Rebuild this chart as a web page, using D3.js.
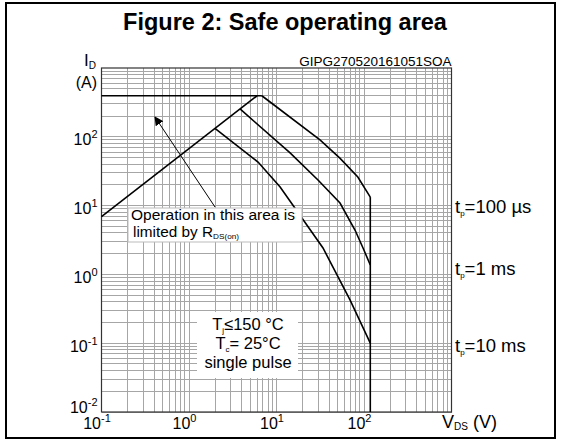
<!DOCTYPE html>
<html>
<head>
<meta charset="utf-8">
<script src="https://cdn.jsdelivr.net/npm/d3@7"></script>
<style>
  body { margin: 0; background: #fff; }
  svg { font-family: "Liberation Sans", Arial, sans-serif; }
</style>
</head>
<body>
<svg id="chart" width="561" height="441"></svg>
<script>
// Axis ticks
const xTicks = [0.1, 1, 10, 100];
const yTicks = [0.01, 0.1, 1, 10, 100];

// Boundary lines (V, A)
const rdsLine = [[0.1, 6.9], [6.0, 395]];
const currentLimit = [[0.1, 395], [6.8, 395]];
const vdssLimit = [[118, 13.3], [118, 0.01]];

// Pulse curves (V, A)
const pulse100us = [[6.8, 395], [31.4, 89.9], [53, 49], [85, 26], [118, 13.3]];
const pulse1ms = [[3.83, 254], [14.3, 58.5], [29.8, 23.6], [53.2, 10.9], [78.9, 4.42], [97.5, 2.42], [118, 1.37]];
const pulse10ms = [[1.98, 133], [6.15, 43], [11.0, 18.6], [34.0, 2.42], [69.2, 0.425], [118, 0.1]];

// Right-hand labels and where they sit (A)
const pulseNames = ["100 µs", "1 ms", "10 ms"];
const pulseLabelY = [9.5, 1.2, 0.091];

const svg = d3.select("#chart");

// outer frame + title
svg.append("rect")
  .attr("x", 6).attr("y", 3).attr("width", 549).attr("height", 435)
  .attr("fill", "none").attr("stroke", "#000").attr("stroke-width", 2);

svg.append("text")
  .attr("x", 285).attr("y", 30)
  .attr("text-anchor", "middle")
  .attr("font-weight", "bold")
  .attr("font-size", 23.5)
  .text("Figure 2: Safe operating area");

// scales
const x = d3.scaleLog().domain([0.1, 1000]).range([101.5, 451.5]);
const y = d3.scaleLog().domain([0.01, 1000]).range([412, 68]);

// log grid: 1..9 in every decade
const gridX = [], gridY = [];
for (let e = -1; e < 3; e++) for (let m = 1; m < 10; m++) gridX.push(m * Math.pow(10, e));
for (let e = -2; e < 3; e++) for (let m = 1; m < 10; m++) gridY.push(m * Math.pow(10, e));

const grid = svg.append("g").attr("stroke", "#a6a6a6").attr("stroke-width", 1)
  .attr("shape-rendering", "crispEdges");
grid.selectAll(".gx").data(gridX).enter().append("line")
  .attr("x1", d => x(d)).attr("x2", d => x(d))
  .attr("y1", y(0.01)).attr("y2", y(1000));
grid.selectAll(".gy").data(gridY).enter().append("line")
  .attr("x1", x(0.1)).attr("x2", x(1000))
  .attr("y1", d => y(d)).attr("y2", d => y(d));

// plot frame
svg.append("rect")
  .attr("x", x(0.1)).attr("y", y(1000))
  .attr("width", x(1000) - x(0.1)).attr("height", y(0.01) - y(1000))
  .attr("fill", "none").attr("stroke", "#333").attr("stroke-width", 1.2);

// power-of-ten labels
function powLabel(sel) {
  sel.each(function(d) {
    const t = d3.select(this).text("");
    const exp = Math.round(Math.log10(d));
    t.append("tspan").text("10");
    t.append("tspan").attr("dy", -7).attr("font-size", 11).text(exp);
  });
}

const xAxis = svg.append("g")
  .attr("transform", "translate(0," + y(0.01) + ")")
  .call(d3.axisBottom(x).tickValues(xTicks).tickSize(0).tickPadding(6));
xAxis.select(".domain").remove();
xAxis.selectAll("text")
  .attr("font-size", 16).attr("font-family", "Liberation Sans, Arial, sans-serif")
  .attr("fill", "#000").attr("dx", -5)
  .call(powLabel);

const yAxis = svg.append("g")
  .attr("transform", "translate(" + x(0.1) + ",0)")
  .call(d3.axisLeft(y).tickValues(yTicks).tickSize(0).tickPadding(4));
yAxis.select(".domain").remove();
yAxis.selectAll("text")
  .attr("font-size", 16).attr("font-family", "Liberation Sans, Arial, sans-serif")
  .attr("fill", "#000")
  .attr("dy", d => d === 0.01 ? "0" : "0.5em") // bottom label sits above the corner
  .call(powLabel);

// axis titles
const idLabel = svg.append("text").attr("x", 84).attr("y", 66).attr("font-size", 17);
idLabel.append("tspan").text("I");
idLabel.append("tspan").attr("dy", 3).attr("font-size", 10).text("D");
svg.append("text").attr("x", 97).attr("y", 88).attr("text-anchor", "end")
  .attr("font-size", 16).text("(A)");

const vdsLabel = svg.append("text").attr("x", 442).attr("y", 428).attr("font-size", 18);
vdsLabel.append("tspan").text("V");
vdsLabel.append("tspan").attr("dy", 2).attr("font-size", 10).text("DS");
vdsLabel.append("tspan").attr("dy", -2).text(" (V)");

svg.append("text")
  .attr("x", x(1000)).attr("y", 66)
  .attr("text-anchor", "end").attr("font-size", 13.5)
  .text("GIPG270520161051SOA");

// curves
const line = d3.line().x(d => x(d[0])).y(d => y(d[1]));
[rdsLine, currentLimit, vdssLimit, pulse100us, pulse1ms, pulse10ms].forEach(d => {
  svg.append("path").attr("d", line(d))
    .attr("fill", "none").attr("stroke", "#000").attr("stroke-width", 1.6);
});

// pulse labels
pulseNames.forEach((name, i) => {
  const t = svg.append("text").attr("x", 455).attr("y", y(pulseLabelY[i]) + 6).attr("font-size", 18.5);
  t.append("tspan").text("t");
  t.append("tspan").attr("dy", 3).attr("font-size", 8).text("p");
  t.append("tspan").attr("dy", -3).text("=" + name);
});

// annotation box with arrow
svg.append("defs").append("marker")
  .attr("id", "arr").attr("viewBox", "0 0 10 10")
  .attr("refX", 9).attr("refY", 5)
  .attr("markerWidth", 9).attr("markerHeight", 9)
  .attr("markerUnits", "userSpaceOnUse")
  .attr("orient", "auto")
  .append("path").attr("d", "M0,0L10,5L0,10z").attr("fill", "#000");

svg.append("line")
  .attr("x1", 215).attr("y1", 207).attr("x2", 155).attr("y2", 117)
  .attr("stroke", "#000").attr("stroke-width", 1)
  .attr("marker-end", "url(#arr)");

svg.append("rect")
  .attr("x", 128).attr("y", 208).attr("width", 174).attr("height", 34)
  .attr("fill", "#fff").attr("stroke", "#bbb");
svg.append("text").attr("x", 131).attr("y", 220).attr("font-size", 14)
  .attr("textLength", 164).attr("lengthAdjust", "spacingAndGlyphs")
  .text("Operation in this area is");
const lim = svg.append("text").attr("x", 133).attr("y", 236.5).attr("font-size", 14)
  .attr("textLength", 106).attr("lengthAdjust", "spacingAndGlyphs");
lim.append("tspan").text("limited by R");
lim.append("tspan").attr("dy", 2).attr("font-size", 7.5).text("DS(on)");

// conditions box
svg.append("rect")
  .attr("x", 197).attr("y", 312).attr("width", 101).attr("height", 66)
  .attr("fill", "#fff");
const cond = svg.append("g").attr("font-size", 16.5).attr("text-anchor", "middle");
const c1 = cond.append("text").attr("x", 248).attr("y", 330);
c1.append("tspan").text("T");
c1.append("tspan").attr("dy", 3).attr("font-size", 8).text("j");
c1.append("tspan").attr("dy", -3).text("≤150 °C");
const c2 = cond.append("text").attr("x", 248).attr("y", 349);
c2.append("tspan").text("T");
c2.append("tspan").attr("dy", 3).attr("font-size", 8).text("c");
c2.append("tspan").attr("dy", -3).text("= 25°C");
cond.append("text").attr("x", 248).attr("y", 368).text("single pulse");
</script>
</body>
</html>
